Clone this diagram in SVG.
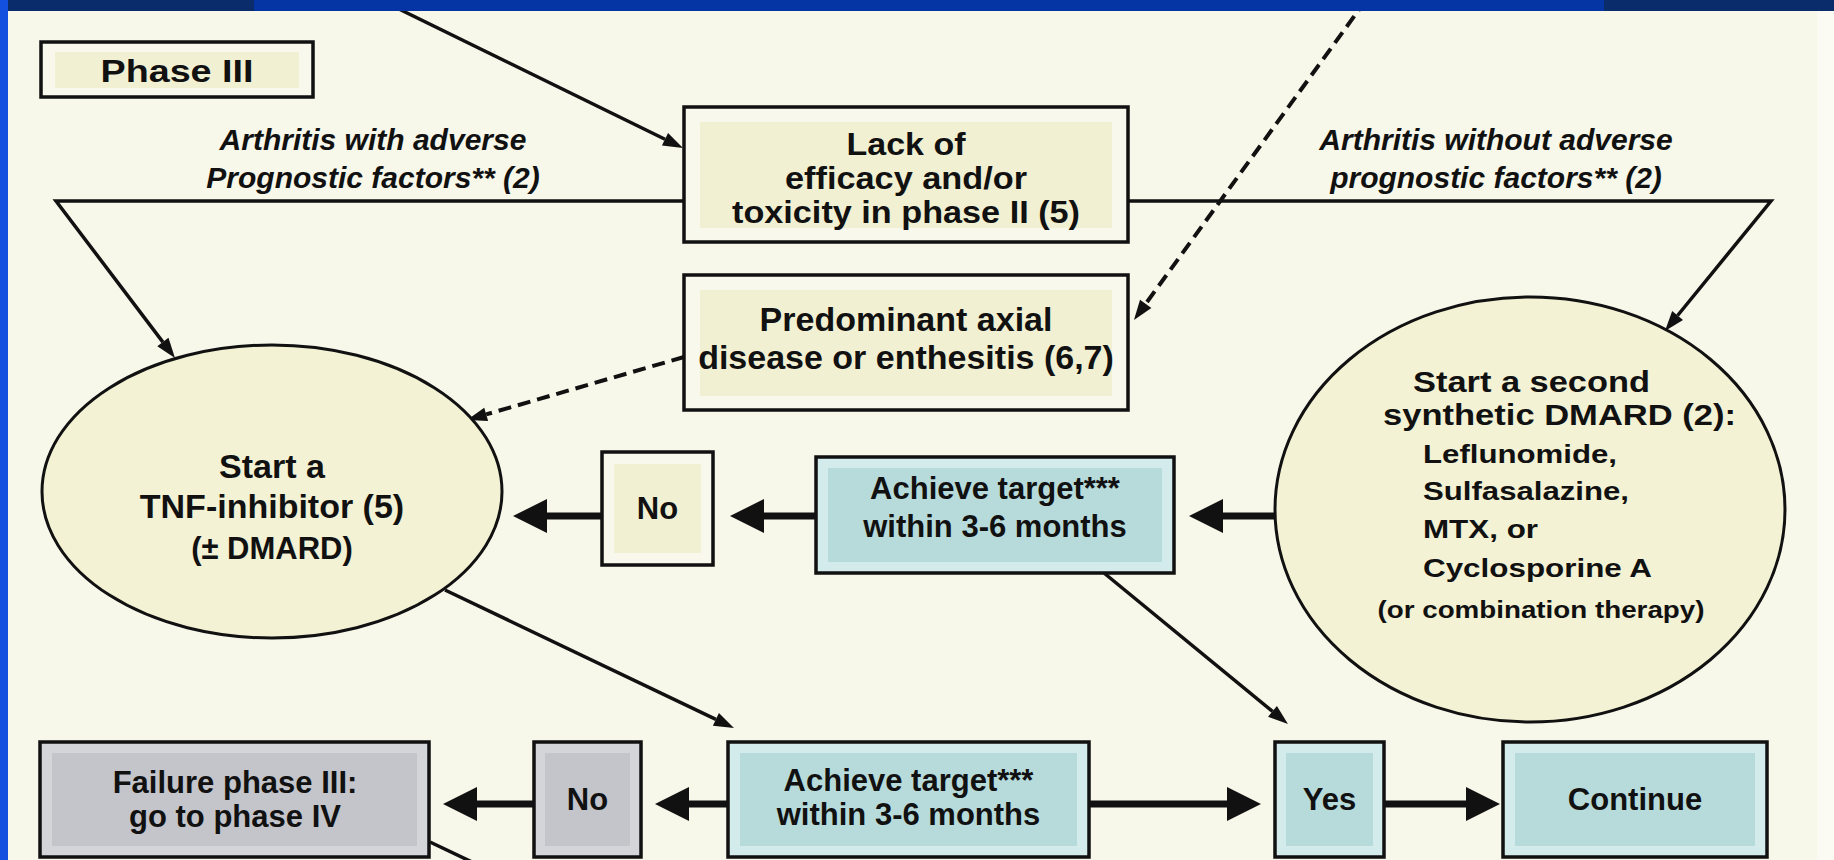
<svg xmlns="http://www.w3.org/2000/svg" width="1834" height="860" viewBox="0 0 1834 860">
<style>
.bg{fill:#f7f7ea}
.box{fill:#f8f8ec;stroke:#111;stroke-width:3.5}
.boxin{fill:#f1f0d3}
.ell{fill:#f3f2d4;stroke:#111;stroke-width:3}
.teal{fill:#d3ebeb;stroke:#111;stroke-width:3.5}
.tealin{fill:#b7dbdb}
.gray{fill:#d3d5d9;stroke:#111;stroke-width:3.5}
.grayin{fill:#c3c5ca}
text{font-family:"Liberation Sans",Arial,Helvetica,sans-serif;font-weight:bold;fill:#111}
.t34{font-size:34px}
.t31{font-size:31px}
.t29{font-size:29px}
.t26{font-size:26.5px}
.t24{font-size:24px}
.lbl{font-size:30px;font-style:italic}
.c{text-anchor:middle}
.thin{fill:none;stroke:#111;stroke-width:3.5;stroke-linejoin:miter}
.dash{fill:none;stroke:#111;stroke-width:4;stroke-dasharray:13 7}
.thick{fill:none;stroke:#111;stroke-width:7}
</style>
<defs>
<marker id="ah" markerUnits="userSpaceOnUse" viewBox="0 0 20 14" refX="0" refY="7" markerWidth="20" markerHeight="14" orient="auto" overflow="visible"><path d="M0,0 L20,7 L0,14 z" fill="#111"/></marker>
<marker id="ahT" markerUnits="userSpaceOnUse" viewBox="0 0 34 34" refX="0" refY="17" markerWidth="34" markerHeight="34" orient="auto" overflow="visible"><path d="M0,0 L34,17 L0,34 z" fill="#111"/></marker>
</defs>
<rect class="bg" x="0" y="0" width="1834" height="860"/>
<rect x="1817" y="11" width="17" height="849" fill="#fbfbf3"/>

<g id="connectors">
  <path class="thin" d="M380.5,0 L665,139.2" marker-end="url(#ah)"/>
  <path class="thin" d="M684,201 L56,201 L162.9,342.1" marker-end="url(#ah)"/>
  <path class="thin" d="M1128,201 L1771,201 L1677.6,315.5" marker-end="url(#ah)"/>
  <path class="dash" d="M1366,0 L1145.7,303.8" marker-end="url(#ah)"/>
  <path class="dash" d="M684,357 L486.2,414.4" marker-end="url(#ah)"/>
  <path class="thin" d="M445,590 L715.9,719.4" marker-end="url(#ah)"/>
  <path class="thin" d="M1104,573 L1272.5,711.3" marker-end="url(#ah)"/>
  <path class="thin" d="M430,842 L472,862"/>
  <path class="thick" d="M1275,516 L1223,516" marker-end="url(#ahT)"/>
  <path class="thick" d="M816,516 L764,516" marker-end="url(#ahT)"/>
  <path class="thick" d="M602,516 L547,516" marker-end="url(#ahT)"/>
  <path class="thick" d="M728,804 L689,804" marker-end="url(#ahT)"/>
  <path class="thick" d="M534,804 L477,804" marker-end="url(#ahT)"/>
  <path class="thick" d="M1089,804 L1227,804" marker-end="url(#ahT)"/>
  <path class="thick" d="M1384,804 L1466,804" marker-end="url(#ahT)"/>
  <g id="label-adverse">
    <text class="lbl c" x="373" y="150">Arthritis with adverse</text>
    <text class="lbl c" x="373" y="188">Prognostic factors** (2)</text>
  </g>
  <g id="label-no-adverse">
    <text class="lbl c" x="1496" y="150">Arthritis without adverse</text>
    <text class="lbl c" x="1496" y="188">prognostic factors** (2)</text>
  </g>
</g>

<g id="phase3">
  <rect class="box" x="41" y="42" width="272" height="55"/>
  <rect class="boxin" x="55" y="52" width="244" height="36"/>
  <text class="t31 c" x="177" y="82" textLength="153" lengthAdjust="spacingAndGlyphs">Phase III</text>
</g>
<g id="lack">
  <rect class="box" x="684" y="107" width="444" height="135"/>
  <rect class="boxin" x="700" y="122" width="412" height="106"/>
  <text class="t31 c" x="906" y="155" textLength="119" lengthAdjust="spacingAndGlyphs">Lack of</text>
  <text class="t31 c" x="906" y="189" textLength="242" lengthAdjust="spacingAndGlyphs">efficacy and/or</text>
  <text class="t31 c" x="906" y="223" textLength="348" lengthAdjust="spacingAndGlyphs">toxicity in phase II (5)</text>
</g>
<g id="axial">
  <rect class="box" x="684" y="275" width="444" height="135"/>
  <rect class="boxin" x="700" y="290" width="412" height="106"/>
  <text class="t34 c" x="906" y="331">Predominant axial</text>
  <text class="t34 c" x="906" y="369">disease or enthesitis (6,7)</text>
</g>
<g id="tnf">
  <ellipse class="ell" cx="272" cy="491.5" rx="230" ry="146.5"/>
  <text class="t34 c" x="272" y="478">Start a</text>
  <text class="t34 c" x="272" y="518">TNF-inhibitor (5)</text>
  <text class="t31 c" x="272" y="559">(± DMARD)</text>
</g>
<g id="no1">
  <rect class="box" x="602" y="452" width="111" height="113"/>
  <rect class="boxin" x="614" y="464" width="87" height="89"/>
  <text class="t31 c" x="657.5" y="519">No</text>
</g>
<g id="target1">
  <rect class="teal" x="816" y="457" width="358" height="116"/>
  <rect class="tealin" x="828" y="468" width="334" height="94"/>
  <text class="t31 c" x="995" y="499">Achieve target***</text>
  <text class="t31 c" x="995" y="537">within 3-6 months</text>
</g>
<g id="dmard2">
  <ellipse class="ell" cx="1530" cy="509.5" rx="255" ry="212.5"/>
  <text class="t29" x="1413" y="392" textLength="237" lengthAdjust="spacingAndGlyphs">Start a second</text>
  <text class="t29" x="1383" y="425" textLength="353" lengthAdjust="spacingAndGlyphs">synthetic DMARD (2):</text>
  <text class="t26" x="1423" y="463" textLength="194" lengthAdjust="spacingAndGlyphs">Leflunomide,</text>
  <text class="t26" x="1423" y="500" textLength="206" lengthAdjust="spacingAndGlyphs">Sulfasalazine,</text>
  <text class="t26" x="1423" y="538" textLength="115" lengthAdjust="spacingAndGlyphs">MTX, or</text>
  <text class="t26" x="1423" y="577" textLength="229" lengthAdjust="spacingAndGlyphs">Cyclosporine A</text>
  <text class="t24 c" x="1541" y="618" textLength="327" lengthAdjust="spacingAndGlyphs">(or combination therapy)</text>
</g>
<g id="failure">
  <rect class="gray" x="40" y="742" width="389" height="115"/>
  <rect class="grayin" x="52" y="753" width="365" height="93"/>
  <text class="t31 c" x="235" y="793">Failure phase III:</text>
  <text class="t31 c" x="235" y="827">go to phase IV</text>
</g>
<g id="no2">
  <rect class="gray" x="534" y="742" width="107" height="115"/>
  <rect class="grayin" x="545" y="753" width="85" height="93"/>
  <text class="t31 c" x="587.5" y="810">No</text>
</g>
<g id="target2">
  <rect class="teal" x="728" y="742" width="361" height="115"/>
  <rect class="tealin" x="740" y="753" width="337" height="93"/>
  <text class="t31 c" x="908.5" y="791">Achieve target***</text>
  <text class="t31 c" x="908.5" y="825">within 3-6 months</text>
</g>
<g id="yes">
  <rect class="teal" x="1275" y="742" width="109" height="115"/>
  <rect class="tealin" x="1286" y="753" width="87" height="93"/>
  <text class="t31 c" x="1329.5" y="810">Yes</text>
</g>
<g id="continue">
  <rect class="teal" x="1503" y="742" width="264" height="115"/>
  <rect class="tealin" x="1515" y="753" width="240" height="93"/>
  <text class="t31 c" x="1635" y="810">Continue</text>
</g>

<rect x="0" y="0" width="254" height="11" fill="#0b2c6b"/>
<rect x="254" y="0" width="1350" height="11" fill="#0535a5"/>
<rect x="1604" y="0" width="230" height="11" fill="#0b2c6b"/>
<rect x="0" y="0" width="8" height="860" fill="#1450e0"/>
</svg>
